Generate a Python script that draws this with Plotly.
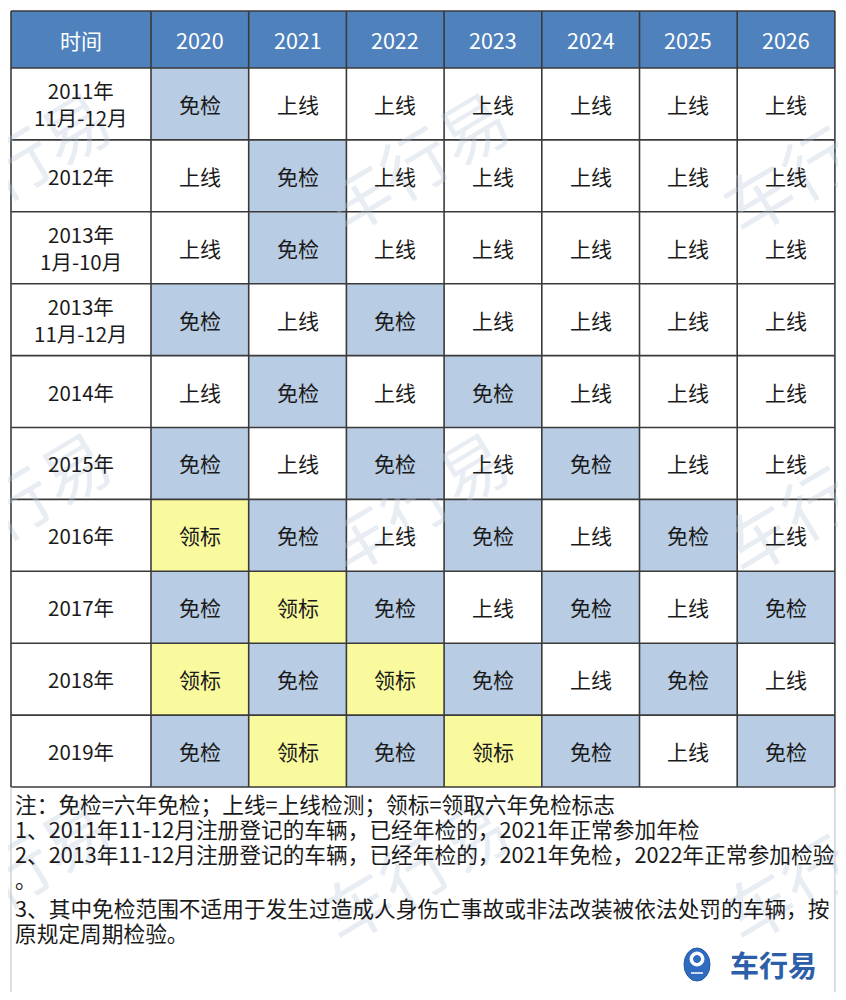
import plotly.graph_objects as go

# ---------------- data ----------------
header_label = "时间"
years = ["2020", "2021", "2022", "2023", "2024", "2025", "2026"]
periods = ["2011年<br>11月-12月", "2012年", "2013年<br>1月-10月", "2013年<br>11月-12月",
           "2014年", "2015年", "2016年", "2017年", "2018年", "2019年"]
r2011b = ["免检", "上线", "上线", "上线", "上线", "上线", "上线"]
r2012 = ["上线", "免检", "上线", "上线", "上线", "上线", "上线"]
r2013a = ["上线", "免检", "上线", "上线", "上线", "上线", "上线"]
r2013b = ["免检", "上线", "免检", "上线", "上线", "上线", "上线"]
r2014 = ["上线", "免检", "上线", "免检", "上线", "上线", "上线"]
r2015 = ["免检", "上线", "免检", "上线", "免检", "上线", "上线"]
r2016 = ["领标", "免检", "上线", "免检", "上线", "免检", "上线"]
r2017 = ["免检", "领标", "免检", "上线", "免检", "上线", "免检"]
r2018 = ["领标", "免检", "领标", "免检", "上线", "免检", "上线"]
r2019 = ["免检", "领标", "免检", "领标", "免检", "上线", "免检"]
status = [r2011b, r2012, r2013a, r2013b, r2014, r2015, r2016, r2017, r2018, r2019]

notes = [
    "注：免检=六年免检；上线=上线检测；领标=领取六年免检标志",
    "1、2011年11-12月注册登记的车辆，已经年检的，2021年正常参加年检",
    "2、2013年11-12月注册登记的车辆，已经年检的，2021年免检，2022年正常参加检验",
    "。",
    "3、其中免检范围不适用于发生过造成人身伤亡事故或非法改装被依法处罚的车辆，按",
    "原规定周期检验。",
]
brand = "车行易"

# ---------------- layout geometry ----------------
PAGE_OFF = 8            # default body margin of the html page
W, H = 846, 1000        # target picture size
X0, FIRST_W, COL_W = 11, 140, 97.7
Y0, HEAD_H, ROW_H = 11, 57, 71.9
FONT = "Noto Sans CJK SC"

code = {"上线": 0, "免检": 1, "领标": 2}
ncol = len(years) + 1
nrow = len(periods) + 1
xe = [X0, X0 + FIRST_W] + [X0 + FIRST_W + COL_W * (i + 1) for i in range(len(years))]
ye = [Y0, Y0 + HEAD_H] + [Y0 + HEAD_H + ROW_H * (i + 1) for i in range(len(periods))]
xc = [(xe[i] + xe[i + 1]) / 2 for i in range(ncol)]
yc = [(ye[i] + ye[i + 1]) / 2 for i in range(nrow)]

z = [[3] * ncol]
for row in status:
    z.append([0] + [code[s] for s in row])

fig = go.Figure()
fig.add_trace(go.Heatmap(
    x=xe, y=ye, z=z, zmin=0, zmax=3, showscale=False, hoverinfo="skip",
    colorscale=[[0, "#FFFFFF"], [1 / 3, "#B8CCE4"], [2 / 3, "#F9F99D"], [1, "#4F81BD"]],
))

shapes = []
# grid lines
for x in xe:
    shapes.append(dict(type="line", x0=x, x1=x, y0=ye[0], y1=ye[-1],
                       line=dict(color="#3a3a3a", width=1.6), layer="above"))
for y in ye:
    shapes.append(dict(type="line", x0=xe[0], x1=xe[-1], y0=y, y1=y,
                       line=dict(color="#3a3a3a", width=1.6), layer="above"))
# notes area side borders
for x in (xe[0], xe[-1]):
    shapes.append(dict(type="line", x0=x, x1=x, y0=ye[-1], y1=H,
                       line=dict(color="#c8c8c8", width=1.2), layer="above"))
# logo icon
shapes.append(dict(type="circle", x0=684, x1=710, y0=948, y1=981,
                   fillcolor="#2F6CC0", line=dict(color="#2459A8", width=1), layer="above"))
shapes.append(dict(type="circle", x0=690, x1=704, y0=952, y1=966,
                   fillcolor="#FFFFFF", line=dict(color="#FFFFFF", width=1), layer="above"))
shapes.append(dict(type="circle", x0=693.5, x1=700.5, y0=955.5, y1=962.5,
                   fillcolor="#2F6CC0", line=dict(color="#2F6CC0", width=1), layer="above"))
shapes.append(dict(type="line", x0=691, x1=703, y0=973, y1=973,
                   line=dict(color="#FFFFFF", width=1.5), layer="above"))

ann = []
# watermarks
for wx in (15, 413, 815):
    for wy in (160, 500, 868):
        ann.append(dict(x=wx, y=wy, text=brand, showarrow=False, textangle=-31,
                        font=dict(family=FONT, size=68, color="rgba(185,200,222,0.33)"),
                        xanchor="center", yanchor="middle"))
# header
ann.append(dict(x=xc[0], y=yc[0], text=header_label, showarrow=False,
                font=dict(family=FONT, size=21, color="#FFFFFF")))
for j, yr in enumerate(years):
    ann.append(dict(x=xc[j + 1], y=yc[0], text=yr, showarrow=False,
                    font=dict(family=FONT, size=21.5, color="#FFFFFF")))
# body
for i, p in enumerate(periods):
    ann.append(dict(x=xc[0], y=yc[i + 1], text=p, showarrow=False,
                    font=dict(family=FONT, size=20.5, color="#1a1a1a")))
    for j, s in enumerate(status[i]):
        ann.append(dict(x=xc[j + 1], y=yc[i + 1], text=s, showarrow=False,
                        font=dict(family=FONT, size=21, color="#1a1a1a")))
# notes
note_y = [803, 828, 853, 878, 907, 932]
for t, ny in zip(notes, note_y):
    ann.append(dict(x=13, y=ny, text=t, showarrow=False, xanchor="left", yanchor="middle",
                    font=dict(family=FONT, size=21.7, color="#1a1a1a")))
# brand text
ann.append(dict(x=728, y=964, text="<b>" + brand + "</b>", showarrow=False,
                xanchor="left", yanchor="middle",
                font=dict(family=FONT, size=29, color="#2D5EA9")))

for a in ann:
    a.setdefault("xref", "x")
    a.setdefault("yref", "y")

# figure size compensates the page margin so data coords == picture pixels
fig.update_layout(
    width=W - PAGE_OFF, height=H - 2 * PAGE_OFF, margin=dict(l=0, r=0, t=0, b=0),
    paper_bgcolor="#FFFFFF", plot_bgcolor="#FFFFFF",
    xaxis=dict(range=[PAGE_OFF, W], visible=False, fixedrange=True),
    yaxis=dict(range=[H - PAGE_OFF, PAGE_OFF], visible=False, fixedrange=True),
    shapes=shapes, annotations=ann, showlegend=False,
)
fig.write_html("out.html")
